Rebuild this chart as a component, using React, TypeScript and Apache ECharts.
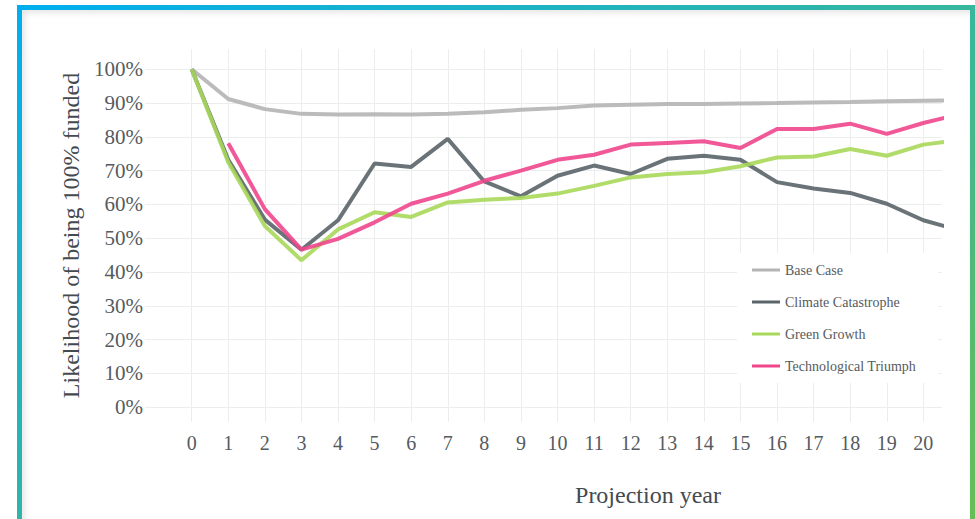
import React, { useEffect, useRef } from "react";
import * as echarts from "echarts";

const years = [0, 1, 2, 3, 4, 5, 6, 7, 8, 9, 10, 11, 12, 13, 14, 15, 16, 17, 18, 19, 20, 21];
const xTickValues = [0, 1, 2, 3, 4, 5, 6, 7, 8, 9, 10, 11, 12, 13, 14, 15, 16, 17, 18, 19, 20];
const yTickValues = [0, 10, 20, 30, 40, 50, 60, 70, 80, 90, 100];
const seriesNames = ["Base Case", "Climate Catastrophe", "Green Growth", "Technological Triumph"];
const seriesColors = ["#b4b4b4", "#5a6469", "#a8d85a", "#f0468c"];

const baseCase = [100, 91.2, 88.2, 86.8, 86.6, 86.7, 86.6, 86.8, 87.3, 88.0, 88.5, 89.3, 89.5, 89.7, 89.7, 89.9, 90.0, 90.2, 90.3, 90.5, 90.7, 90.8];
const climateCatastrophe = [100, 73.2, 55.5, 46.6, 55.3, 72.1, 71.1, 79.4, 66.8, 62.4, 68.5, 71.5, 69.0, 73.5, 74.4, 73.2, 66.6, 64.7, 63.4, 60.2, 55.3, 52.3];
const greenGrowth = [100, 72.5, 53.6, 43.5, 52.6, 57.7, 56.3, 60.6, 61.4, 61.9, 63.2, 65.5, 68.0, 69.0, 69.5, 71.3, 73.9, 74.2, 76.4, 74.4, 77.7, 79.1];
const technologicalTriumph = [null, 78.1, 58.6, 46.6, 49.8, 54.7, 60.2, 63.2, 67.0, 70.0, 73.2, 74.7, 77.7, 78.2, 78.7, 76.7, 82.3, 82.3, 83.9, 80.9, 84.1, 86.7];

const seriesValues = [baseCase, climateCatastrophe, greenGrowth, technologicalTriumph];

const FONT = '"Liberation Serif", "Times New Roman", serif';

export default function App() {
  const ref = useRef<HTMLDivElement>(null);

  useEffect(() => {
    if (!ref.current) return;
    const chart = echarts.init(ref.current, undefined, { renderer: "svg" });
    const series = seriesNames.map((name, si) => ({
      name,
      type: "line",
      showSymbol: false,
      symbol: "none",
      clip: true,
      color: seriesColors[si],
      lineStyle: { width: 4, color: seriesColors[si], opacity: 0.9 },
      itemStyle: { color: seriesColors[si] },
      data: years
        .map((y, i) => [y, seriesValues[si][i]])
        .filter((p) => p[1] !== null && p[1] !== undefined),
    }));

    chart.setOption({
      animation: false,
      grid: { left: 145, top: 49, width: 797, height: 373, containLabel: false },
      xAxis: {
        type: "value",
        min: -1.276,
        max: 20.51,
        axisLine: { show: false },
        axisTick: { show: false, customValues: xTickValues },
        axisLabel: {
          customValues: xTickValues,
          margin: 11,
          fontFamily: FONT,
          fontSize: 20,
          color: "#555b60",
        },
        splitLine: { show: true, lineStyle: { color: "#eceeee", width: 1 } },
      },
      yAxis: {
        type: "value",
        min: -4.4,
        max: 106,
        axisLine: { show: false },
        axisTick: { show: false, customValues: yTickValues },
        axisLabel: {
          customValues: yTickValues,
          formatter: "{value}%",
          margin: 2,
          fontFamily: FONT,
          fontSize: 21,
          color: "#555b60",
        },
        splitLine: { show: true, lineStyle: { color: "#eceeee", width: 1 } },
        name: "Likelihood of being 100% funded",
        nameLocation: "middle",
        nameGap: 58,
        nameTextStyle: { fontFamily: FONT, fontSize: 24, color: "#444a4f" },
      },
      legend: {
        orient: "vertical",
        left: 737,
        top: 253,
        backgroundColor: "#ffffff",
        padding: [9, 22, 9, 15],
        itemWidth: 28,
        itemHeight: 3,
        itemGap: 16,
        icon: "rect",
        textStyle: { fontFamily: FONT, fontSize: 14, color: "#555b60", lineHeight: 16 },
        data: seriesNames,
      },
      graphic: [
        {
          type: "text",
          x: 648,
          y: 495,
          style: {
            text: "Projection year",
            fontFamily: FONT,
            fontSize: 24,
            fill: "#444a4f",
            align: "center",
            verticalAlign: "middle",
          },
        },
      ],
      series,
    });

    return () => chart.dispose();
  }, []);

  return (
    <div style={{ position: "absolute", left: 0, top: 0, width: 975, height: 519, overflow: "hidden", background: "#fff" }}>
      <div
        style={{
          position: "absolute",
          left: 17,
          top: 5,
          width: 958,
          height: 600,
          boxSizing: "border-box",
          border: "5px solid transparent",
          borderImage: "linear-gradient(to bottom right, #00aeef, #6dbf4b) 1",
          boxShadow: "inset 3px 3px 6px rgba(0,0,0,0.10)",
        }}
      />
      <div ref={ref} style={{ position: "absolute", left: 0, top: 0, width: 975, height: 519 }} />
    </div>
  );
}
